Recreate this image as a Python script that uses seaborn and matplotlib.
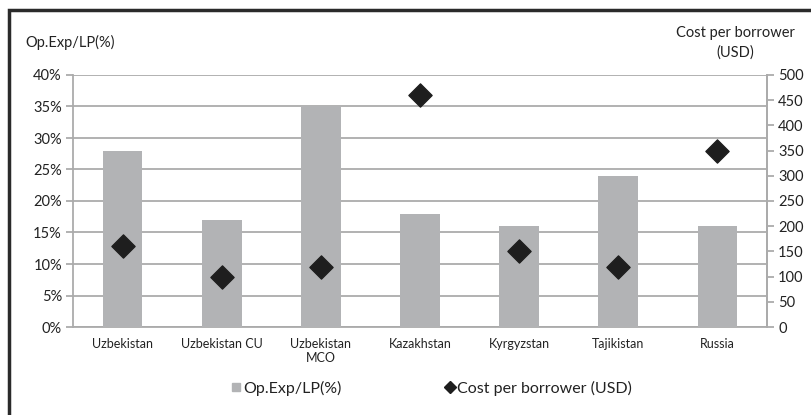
import matplotlib
matplotlib.use("Agg")
import matplotlib.pyplot as plt
import seaborn as sns
import pandas as pd
import numpy as np
from matplotlib.patches import Rectangle
from matplotlib.lines import Line2D
from matplotlib.ticker import FixedLocator

categories = ["Uzbekistan", "Uzbekistan CU", "Uzbekistan\nMCO", "Kazakhstan", "Kyrgyzstan", "Tajikistan", "Russia"]
op_exp = [28, 17, 35, 18, 16, 24, 16]
cost_per_borrower = [160, 100, 120, 460, 150, 120, 350]
left_ticks = [0, 5, 10, 15, 20, 25, 30, 35, 40]
right_ticks = [0, 50, 100, 150, 200, 250, 300, 350, 400, 450, 500]

sns.set_style("white")
plt.rcParams['font.family'] = ['Lato', 'DejaVu Sans']

df = pd.DataFrame({"cat": categories, "op": op_exp, "cost": cost_per_borrower})

fig = plt.figure(figsize=(8.12, 4.15), dpi=100)
ax = fig.add_axes([73/812, 1-327/415, (767-73)/812, (327-75)/415])

grid_c = "#ababab"
bar_c = "#b2b3b5"
txt_c = "#222222"

sns.barplot(data=df, x="cat", y="op", color=bar_c, width=0.4, ax=ax, zorder=3,
            saturation=1, linewidth=0)
ax.set_ylim(0, 40)
ax.set_xlim(-0.5, len(categories) - 0.5)
ax.yaxis.set_major_locator(FixedLocator(left_ticks))
ax.set_yticklabels([f"{t}%" for t in left_ticks])
ax.grid(axis="y", color=grid_c, linewidth=1.3, zorder=0)
ax.set_axisbelow(True)
ax.set_xlabel("")
ax.set_ylabel("")
ax.xaxis.set_minor_locator(FixedLocator(np.arange(-0.5, len(categories), 1.0)))
ax.tick_params(axis="x", which="major", length=0, labelsize=9, pad=8, colors=txt_c)
ax.tick_params(axis="x", which="minor", length=5, width=1.3, color=grid_c, direction="out")
ax.tick_params(axis="y", length=5, width=1.3, color=grid_c, labelsize=10.5, labelcolor=txt_c, pad=3)
ax.spines["top"].set_visible(False)
for s in ["left", "bottom", "right"]:
    ax.spines[s].set_color(grid_c)
    ax.spines[s].set_linewidth(1.3)

ax2 = ax.twinx()
sns.scatterplot(data=df, x="cat", y="cost", marker="D", s=140, color="#1e1e1e",
                edgecolor="#1e1e1e", ax=ax2, zorder=5, legend=False)
ax2.set_ylim(0, 500)
ax2.set_xlim(-0.5, len(categories) - 0.5)
ax2.yaxis.set_major_locator(FixedLocator(right_ticks))
ax2.set_ylabel("")
ax2.set_xlabel("")
ax2.tick_params(axis="y", length=5, width=1.3, color=grid_c, labelsize=10.5, labelcolor=txt_c, pad=3)
for s in ["top", "left", "bottom"]:
    ax2.spines[s].set_visible(False)
ax2.spines["right"].set_color(grid_c)
ax2.spines["right"].set_linewidth(1.3)

fig.text(25/812, 1-42/415, "Op.Exp/LP(%)", fontsize=10.5, color=txt_c, va="center", ha="left")
fig.text(735/812, 1-33/415, "Cost per borrower", fontsize=10.5, color=txt_c, va="center", ha="center")
fig.text(735/812, 1-53/415, "(USD)", fontsize=10.5, color=txt_c, va="center", ha="center")

handles = [
    Line2D([0], [0], marker="s", linestyle="none", color=bar_c, markersize=6),
    Line2D([0], [0], marker="D", linestyle="none", color="#1e1e1e", markersize=6.5),
]
fig.legend(handles, ["Op.Exp/LP(%)", "Cost per borrower (USD)"], loc="center",
           bbox_to_anchor=(432/812, 1-388/415), ncol=2, frameon=False, fontsize=11.5,
           handletextpad=0.22, columnspacing=6.5, handlelength=0.5, labelcolor=txt_c)

border = Rectangle((9/812, -0.05), 1.2, 1-10/415+0.05, transform=fig.transFigure,
                   fill=False, edgecolor="#2a2a2a", linewidth=2.5, clip_on=False)
fig.patches.append(border)

fig.savefig("out.png", dpi=100)
